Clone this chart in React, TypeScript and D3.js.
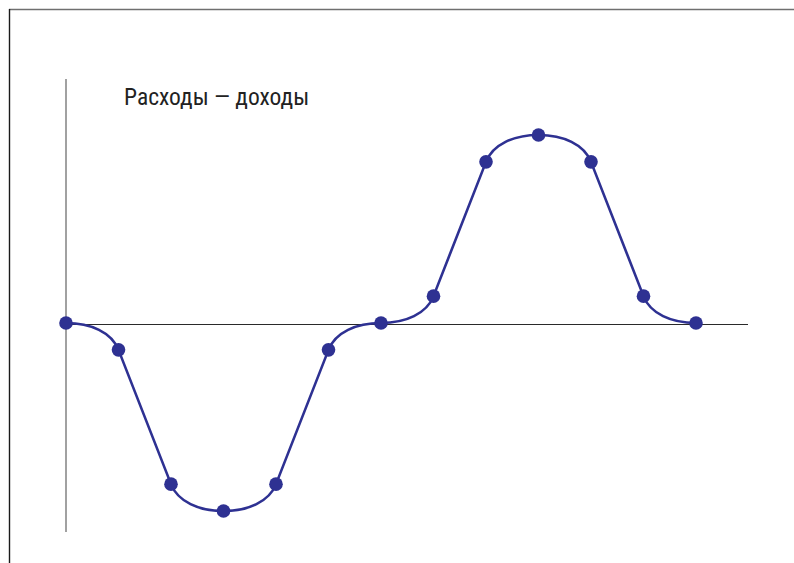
import React, { useEffect, useRef } from "react";
import * as d3 from "d3";

// balance by period: expenses (negative) vs income (positive)
const periods = [0, 1, 2, 3, 4, 5, 6, 7, 8, 9, 10, 11, 12];
const balance = [0, -1, -6, -7, -6, -1, 0, 1, 6, 7, 6, 1, 0];
// "flat" = horizontal tangent at the point, "steep" = follows the straight run
const tangents = ["flat", "steep", "steep", "flat", "steep", "steep", "flat", "steep", "steep", "flat", "steep", "steep", "flat"];
const title = "Расходы — доходы";

const W = 794;
const H = 563;

const App = () => {
  const ref = useRef<SVGSVGElement | null>(null);

  useEffect(() => {
    const svg = d3.select(ref.current);
    svg.selectAll("*").remove();

    const x = d3.scaleLinear().domain([0, 12]).range([66, 696]);
    const y = d3.scaleLinear().domain([-7, 7]).range([511, 135]);

    // frame edges
    svg.append("line")
      .attr("x1", 9).attr("x2", W).attr("y1", 9.5).attr("y2", 9.5)
      .attr("stroke", "#6f6f6f").attr("stroke-width", 1.6);
    svg.append("line")
      .attr("x1", 9.5).attr("x2", 9.5).attr("y1", 9).attr("y2", H)
      .attr("stroke", "#1a1a1a").attr("stroke-width", 1.4);

    // axes
    svg.append("line")
      .attr("x1", x(0)).attr("x2", 748).attr("y1", y(0) + 1.5).attr("y2", y(0) + 1.5)
      .attr("stroke", "#2a2a2a").attr("stroke-width", 1.2);
    svg.append("line")
      .attr("x1", x(0)).attr("x2", x(0)).attr("y1", 79).attr("y2", 532)
      .attr("stroke", "#8a8a8a").attr("stroke-width", 1.6);

    svg.append("text")
      .attr("x", 124).attr("y", 105)
      .attr("font-family", "'Liberation Sans Narrow', 'Roboto Condensed', 'Arial Narrow', sans-serif")
      .attr("font-size", 23.5)
      .attr("fill", "#222")
      .text(title);

    const pts = periods.map((p, i) => [x(p), y(balance[i])]);

    // direction of tangent at each point
    const dir = pts.map((pt, i) => {
      if (tangents[i] === "flat") return [1, 0];
      // steep points pair up with a neighbour that is also steep
      const j = tangents[i + 1] === "steep" ? i + 1 : i - 1;
      const a = i < j ? pt : pts[j];
      const b = i < j ? pts[j] : pt;
      const dx = b[0] - a[0];
      const dy = b[1] - a[1];
      const len = Math.hypot(dx, dy);
      return [dx / len, dy / len];
    });

    const path = d3.path();
    path.moveTo(pts[0][0], pts[0][1]);
    for (let i = 0; i < pts.length - 1; i++) {
      const a = pts[i];
      const b = pts[i + 1];
      if (tangents[i] === "steep" && tangents[i + 1] === "steep") {
        path.lineTo(b[0], b[1]);
        continue;
      }
      const chord = Math.hypot(b[0] - a[0], b[1] - a[1]);
      const ka = tangents[i] === "flat" ? 0.42 : 0.32;
      const kb = tangents[i + 1] === "flat" ? 0.42 : 0.32;
      const da = dir[i];
      const db = dir[i + 1];
      path.bezierCurveTo(
        a[0] + da[0] * chord * ka, a[1] + da[1] * chord * ka,
        b[0] - db[0] * chord * kb, b[1] - db[1] * chord * kb,
        b[0], b[1]
      );
    }

    svg.append("path")
      .attr("d", path.toString())
      .attr("fill", "none")
      .attr("stroke", "#2e3192")
      .attr("stroke-width", 2.6);

    svg.selectAll(".dot")
      .data(periods)
      .enter()
      .append("circle")
      .attr("class", "dot")
      .attr("cx", (d) => x(d))
      .attr("cy", (d, i) => y(balance[i]))
      .attr("r", 6.8)
      .attr("fill", "#2e3192");
  }, []);

  return (
    <svg
      ref={ref}
      width={W}
      height={H}
      style={{ position: "absolute", left: 0, top: 0, background: "#fff" }}
    />
  );
};

export default App;
